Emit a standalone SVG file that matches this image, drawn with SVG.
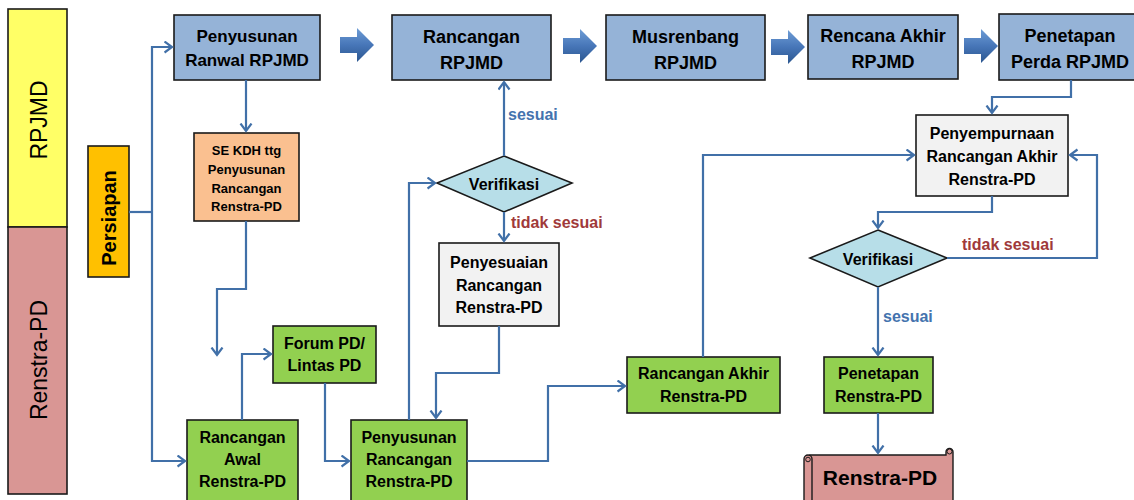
<svg xmlns="http://www.w3.org/2000/svg" width="1134" height="500" viewBox="0 0 1134 500">
<style>
text{font-family:"Liberation Sans",Arial,sans-serif;font-weight:bold;fill:#000;text-anchor:middle}
.box{stroke:#1a1a1a;stroke-width:1.6}
.blue{fill:#95B3D7}
.gray{fill:#F2F2F2}
.green{fill:#92D050}
.orange{fill:#FAC090}
.dia{fill:#B7DEE8}
.t18{font-size:18px}
.t17{font-size:17px}
.t16{font-size:16px}
.t13{font-size:13px}
.conn path{fill:none;stroke:#4170A8;stroke-width:2.2}
.lbl{font-size:16px;text-anchor:start}
.ok{fill:#4473AE}
.no{fill:#A03A3A}
</style>
<defs>
<marker id="ah" markerUnits="userSpaceOnUse" markerWidth="12" markerHeight="14" refX="8.5" refY="6.5" orient="auto">
<path d="M1,1 L8.5,6.5 L1,12" fill="none" stroke="#4170A8" stroke-width="2.2"/>
</marker>
<linearGradient id="bg" x1="0" y1="0" x2="0" y2="1">
<stop offset="0" stop-color="#6E9DD6"/>
<stop offset="0.5" stop-color="#4776B8"/>
<stop offset="1" stop-color="#2B568F"/>
</linearGradient>
<path id="barrow" d="M0,-8 H17 V-17 L34,0 L17,17 V8 H0 Z" fill="url(#bg)"/>
</defs>

<g id="lane-rpjmd">
<rect x="8" y="9" width="59" height="218" fill="#FFFF66" stroke="#1a1a1a" stroke-width="1.6"/>
<text transform="translate(47,120) rotate(-90)" style="font-size:23px;font-weight:normal">RPJMD</text>
</g>
<g id="lane-renstra">
<rect x="8" y="227" width="59" height="267" fill="#D99694" stroke="#1a1a1a" stroke-width="1.6"/>
<text transform="translate(47,360) rotate(-90)" style="font-size:23px;font-weight:normal">Renstra-PD</text>
</g>
<g id="persiapan">
<rect x="88" y="146" width="41" height="131" fill="#FFC000" stroke="#1a1a1a" stroke-width="1.6"/>
<text transform="translate(116,218) rotate(-90)" style="font-size:20px">Persiapan</text>
</g>

<g id="block-arrows">
<use href="#barrow" x="340" y="45"/>
<use href="#barrow" x="563" y="46"/>
<use href="#barrow" x="771" y="47"/>
<use href="#barrow" x="964" y="46"/>
</g>

<g id="n-ranwal">
<rect class="box blue" x="174" y="15" width="146" height="65"/>
<text class="t17" x="247" y="42">Penyusunan</text>
<text class="t17" x="247" y="66">Ranwal RPJMD</text>
</g>
<g id="n-rancangan-rpjmd">
<rect class="box blue" x="392" y="15" width="159" height="65"/>
<text class="t18" x="471.5" y="43">Rancangan</text>
<text class="t18" x="471.5" y="69">RPJMD</text>
</g>
<g id="n-musrenbang">
<rect class="box blue" x="606" y="15" width="159" height="65"/>
<text class="t18" x="685.5" y="43">Musrenbang</text>
<text class="t18" x="685.5" y="69">RPJMD</text>
</g>
<g id="n-rencana-akhir">
<rect class="box blue" x="808" y="15" width="150" height="64"/>
<text class="t18" x="883" y="42">Rencana Akhir</text>
<text class="t18" x="883" y="68">RPJMD</text>
</g>
<g id="n-penetapan-perda">
<rect class="box blue" x="999" y="14" width="142" height="66"/>
<text class="t18" x="1070" y="42">Penetapan</text>
<text class="t18" x="1070" y="68">Perda RPJMD</text>
</g>

<g id="n-se-kdh">
<rect class="box orange" x="194" y="133" width="105" height="88"/>
<text class="t13" x="246.5" y="155">SE KDH ttg</text>
<text class="t13" x="246.5" y="174">Penyusunan</text>
<text class="t13" x="246.5" y="193">Rancangan</text>
<text class="t13" x="246.5" y="211">Renstra-PD</text>
</g>
<g id="n-forum">
<rect class="box green" x="273" y="326" width="103" height="57"/>
<text class="t16" x="324.5" y="349">Forum PD/</text>
<text class="t16" x="324.5" y="371">Lintas PD</text>
</g>
<g id="n-rancangan-awal">
<rect class="box green" x="187" y="420" width="111" height="84"/>
<text class="t16" x="242.5" y="443">Rancangan</text>
<text class="t16" x="242.5" y="465">Awal</text>
<text class="t16" x="242.5" y="487">Renstra-PD</text>
</g>
<g id="n-penyusunan-rancangan">
<rect class="box green" x="351" y="420" width="116" height="84"/>
<text class="t16" x="409" y="443">Penyusunan</text>
<text class="t16" x="409" y="465">Rancangan</text>
<text class="t16" x="409" y="487">Renstra-PD</text>
</g>
<g id="n-verifikasi-1">
<polygon class="box dia" points="504,156 572,183 504,212 437,183"/>
<text class="t16" x="504" y="190">Verifikasi</text>
</g>
<g id="n-penyesuaian">
<rect class="box gray" x="439" y="243" width="120" height="83"/>
<text class="t16" x="499" y="268">Penyesuaian</text>
<text class="t16" x="499" y="291">Rancangan</text>
<text class="t16" x="499" y="313">Renstra-PD</text>
</g>
<g id="n-rancangan-akhir-renstra">
<rect class="box green" x="627" y="357" width="153" height="56"/>
<text class="t16" x="703.5" y="379">Rancangan Akhir</text>
<text class="t16" x="703.5" y="402">Renstra-PD</text>
</g>
<g id="n-penyempurnaan">
<rect class="box gray" x="916" y="115" width="152" height="81"/>
<text class="t16" x="992" y="139">Penyempurnaan</text>
<text class="t16" x="992" y="162">Rancangan Akhir</text>
<text class="t16" x="992" y="185">Renstra-PD</text>
</g>
<g id="n-verifikasi-2">
<polygon class="box dia" points="878,230 947,258 878,287 810,258"/>
<text class="t16" x="878" y="265">Verifikasi</text>
</g>
<g id="n-penetapan-renstra">
<rect class="box green" x="824" y="357" width="109" height="56"/>
<text class="t16" x="878.5" y="379">Penetapan</text>
<text class="t16" x="878.5" y="402">Renstra-PD</text>
</g>
<g id="n-renstra-doc">
<path d="M810,455 H946 V452 A3.5,3.5 0 0 1 953,452 V504 H810 Z" fill="#D99694" stroke="#1a1a1a" stroke-width="1.4"/>
<circle cx="949.5" cy="451.5" r="2.5" fill="#D99694" stroke="#1a1a1a" stroke-width="1"/>
<path d="M804,504 V459 A4,4 0 0 1 812,459 V504" fill="#D99694" stroke="#1a1a1a" stroke-width="1.4"/>
<circle cx="808" cy="459.5" r="2.3" fill="#D99694" stroke="#1a1a1a" stroke-width="1"/>
<text x="880" y="485" style="font-size:21px">Renstra-PD</text>
</g>

<g id="connectors" class="conn">
<path d="M129,212 H152"/>
<path d="M152,212 V47 H172" marker-end="url(#ah)"/>
<path d="M152,212 V461 H185" marker-end="url(#ah)"/>
<path d="M246,80 V131" marker-end="url(#ah)"/>
<path d="M246,221 V289 H217 V355" marker-end="url(#ah)"/>
<path d="M242,420 V354 H271" marker-end="url(#ah)"/>
<path d="M325,383 V461 H349" marker-end="url(#ah)"/>
<path d="M409,420 V183 H435" marker-end="url(#ah)"/>
<path d="M504,156 V82" marker-end="url(#ah)"/>
<path d="M504,212 V241" marker-end="url(#ah)"/>
<path d="M499,326 V373 H436 V418" marker-end="url(#ah)"/>
<path d="M467,461 H548 V386 H625" marker-end="url(#ah)"/>
<path d="M703,357 V155 H914" marker-end="url(#ah)"/>
<path d="M1071,80 V97 H992 V113" marker-end="url(#ah)"/>
<path d="M992,196 V212 H878 V228" marker-end="url(#ah)"/>
<path d="M947,258 H1097 V155 H1070" marker-end="url(#ah)"/>
<path d="M878,287 V355" marker-end="url(#ah)"/>
<path d="M878,413 V453" marker-end="url(#ah)"/>
</g>

<g id="labels">
<text class="lbl ok" x="508" y="120">sesuai</text>
<text class="lbl no" x="511" y="228">tidak sesuai</text>
<text class="lbl no" x="962" y="250">tidak sesuai</text>
<text class="lbl ok" x="883" y="322">sesuai</text>
</g>
</svg>
